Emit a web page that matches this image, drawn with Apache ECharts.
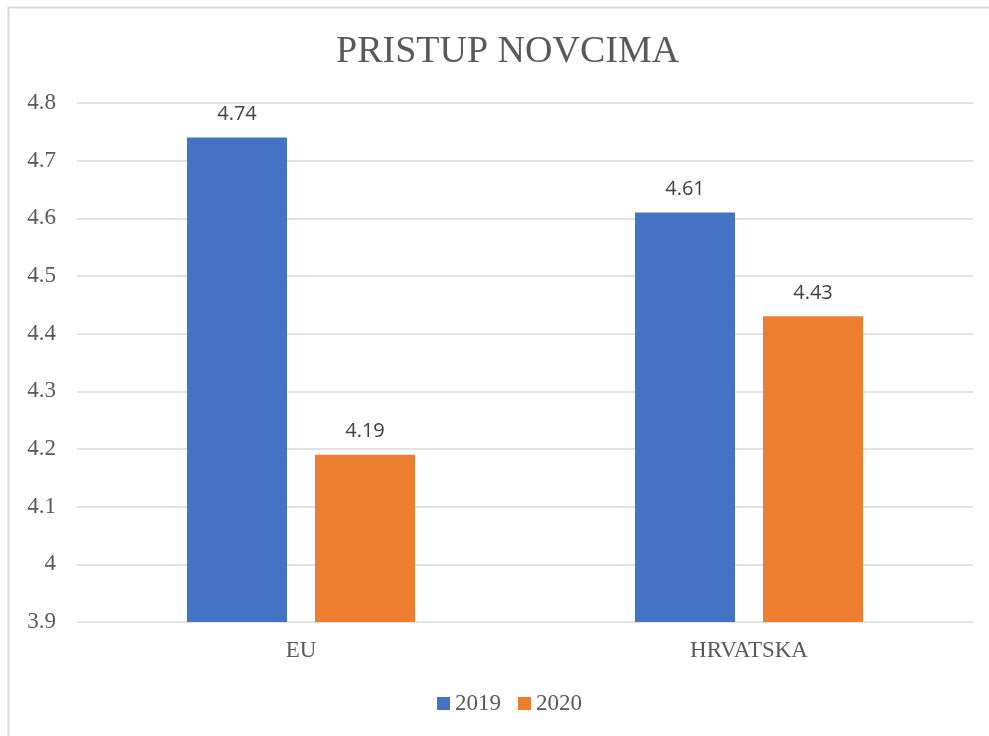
<!DOCTYPE html>
<html><head><meta charset="utf-8">
<script src="https://cdn.jsdelivr.net/npm/echarts@6/dist/echarts.min.js"></script>
<style>html,body{margin:0;padding:0;background:#fff}#c{width:989px;height:736px}</style>
</head><body><div id="c"></div>
<script>
const categories = ['EU', 'HRVATSKA'];
const seriesNames = ['2019', '2020'];
const values2019 = [4.74, 4.61];
const values2020 = [4.19, 4.43];
const colors = ['#4472C4', '#ED7D31'];

const chart = echarts.init(document.getElementById('c'), null, {renderer: 'canvas'});
const serif = '"Liberation Serif", "Times New Roman", serif';
const labelCfg = {show: true, position: 'top', distance: 13, color: '#404040', fontSize: 20, fontFamily: '"Open Sans", "Liberation Sans", sans-serif'};
chart.setOption({
  animation: false,
  graphic: [
    {type: 'rect', shape: {x: 8.5, y: 7.5, width: 1200, height: 1000}, style: {fill: 'none', stroke: '#d9d9d9', lineWidth: 2}, silent: true}
  ],
  title: {text: 'PRISTUP NOVCIMA', left: 336, top: 33, padding: 0, textStyle: {fontFamily: serif, fontSize: 38, fontWeight: 'normal', color: '#595959'}},
  legend: {bottom: 16, left: 432, itemWidth: 13, itemHeight: 13, itemGap: 17, icon: 'rect', textStyle: {fontFamily: serif, fontSize: 23, color: '#595959'}, data: seriesNames},
  grid: {left: 77, right: 16, top: 103, bottom: 114, containLabel: false},
  xAxis: {type: 'category', data: categories, axisTick: {show: false}, axisLine: {show: false}, axisLabel: {fontFamily: serif, fontSize: 23, color: '#595959', margin: 17}},
  yAxis: {type: 'value', min: 3.9, max: 4.8, interval: 0.1, axisLine: {show: false}, axisTick: {show: false},
    splitLine: {lineStyle: {color: '#d9d9d9', width: 1.5}},
    axisLabel: {fontFamily: serif, fontSize: 23, color: '#595959', margin: 21, formatter: v => String(Math.round(v * 10) / 10)}},
  series: [
    {name: seriesNames[0], type: 'bar', data: values2019, barWidth: 100, barGap: '28%', itemStyle: {color: colors[0]}, label: labelCfg},
    {name: seriesNames[1], type: 'bar', data: values2020, barWidth: 100, barGap: '28%', itemStyle: {color: colors[1]}, label: labelCfg}
  ]
});
</script></body></html>
